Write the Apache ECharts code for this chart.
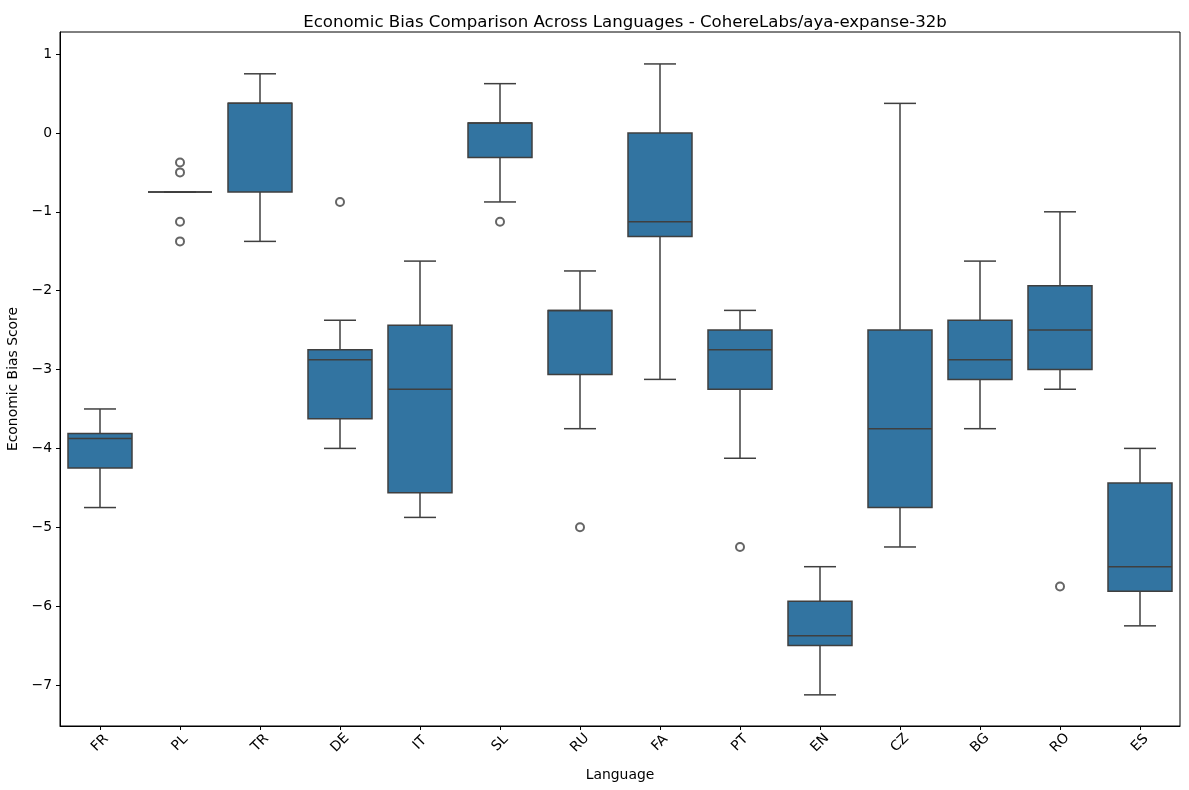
<!DOCTYPE html>
<html>
<head>
<meta charset="utf-8">
<script src="https://cdn.jsdelivr.net/npm/echarts@6/dist/echarts.min.js"></script>
<style>
html,body{margin:0;padding:0;background:#fff;}
#chart{width:1189px;height:790px;}
</style>
</head>
<body>
<div id="chart"></div>
<script>
const categories = ['FR','PL','TR','DE','IT','SL','RU','FA','PT','EN','CZ','BG','RO','ES'];
// [whiskerLow, Q1, median, Q3, whiskerHigh]
const boxStats = [
  [-4.75, -4.25, -3.875, -3.8125, -3.5],
  [-0.75, -0.75, -0.75, -0.75, -0.75],
  [-1.375, -0.75, 0.375, 0.375, 0.75],
  [-4.0, -3.625, -2.875, -2.75, -2.375],
  [-4.875, -4.5625, -3.25, -2.4375, -1.625],
  [-0.875, -0.3125, 0.125, 0.125, 0.625],
  [-3.75, -3.0625, -2.25, -2.25, -1.75],
  [-3.125, -1.3125, -1.125, 0.0, 0.875],
  [-4.125, -3.25, -2.75, -2.5, -2.25],
  [-7.125, -6.5, -6.375, -5.9375, -5.5],
  [-5.25, -4.75, -3.75, -2.5, 0.375],
  [-3.75, -3.125, -2.875, -2.375, -1.625],
  [-3.25, -3.0, -2.5, -1.9375, -1.0],
  [-6.25, -5.8125, -5.5, -4.4375, -4.0]
];
// [category, value]
const outliers = [
  ['PL', -0.375], ['PL', -0.5], ['PL', -1.125], ['PL', -1.375],
  ['DE', -0.875],
  ['SL', -1.125],
  ['RU', -5.0],
  ['PT', -5.25],
  ['RO', -5.75]
];
const yTicks = [-7, -6, -5, -4, -3, -2, -1, 0, 1];

const boxData = boxStats.map((s, i) => [i].concat(s));
const lineColor = '#3f3f3f';
const fillColor = '#3274a1';

function renderBox(params, api) {
  const idx = api.value(0);
  const lo = api.coord([idx, api.value(1)]);
  const q1 = api.coord([idx, api.value(2)]);
  const med = api.coord([idx, api.value(3)]);
  const q3 = api.coord([idx, api.value(4)]);
  const hi = api.coord([idx, api.value(5)]);
  const band = api.size([1, 0])[0];
  const bw = band * 0.8;
  const cw = band * 0.4;
  const x = lo[0];
  const ls = {stroke: lineColor, lineWidth: 1.5, fill: null};
  const children = [
    {type: 'line', shape: {x1: x, y1: q1[1], x2: x, y2: lo[1]}, style: ls},
    {type: 'line', shape: {x1: x, y1: q3[1], x2: x, y2: hi[1]}, style: ls},
    {type: 'line', shape: {x1: x - cw/2, y1: lo[1], x2: x + cw/2, y2: lo[1]}, style: ls},
    {type: 'line', shape: {x1: x - cw/2, y1: hi[1], x2: x + cw/2, y2: hi[1]}, style: ls},
    {type: 'rect', shape: {x: x - bw/2, y: q3[1], width: bw, height: q1[1] - q3[1]},
      style: {fill: fillColor, stroke: lineColor, lineWidth: 1.5}},
    {type: 'line', shape: {x1: x - bw/2, y1: med[1], x2: x + bw/2, y2: med[1]}, style: ls}
  ];
  return {type: 'group', children: children};
}

const chart = echarts.init(document.getElementById('chart'), null, {renderer: 'canvas'});
const font = 'DejaVu Sans';
chart.setOption({
  animation: false,
  backgroundColor: '#fff',
  title: {
    text: 'Economic Bias Comparison Across Languages - CohereLabs/aya-expanse-32b',
    left: 620, top: 9, textAlign: 'center',
    textStyle: {fontFamily: font, fontSize: 16.6, fontWeight: 'normal', color: '#000'}
  },
  grid: {left: 60, right: 9, top: 32, bottom: 64, containLabel: false, outerBoundsMode: 'none',
    show: true, borderColor: '#000', borderWidth: 1, backgroundColor: 'transparent'},
  xAxis: {
    type: 'category',
    data: categories,
    name: 'Language',
    nameLocation: 'middle',
    nameGap: 42,
    nameTextStyle: {fontFamily: font, fontSize: 13.9, color: '#000'},
    axisLine: {show: true, onZero: false, lineStyle: {color: '#000', width: 1}},
    axisTick: {show: true, alignWithLabel: true, length: 4, lineStyle: {color: '#000'}},
    axisLabel: {fontFamily: font, fontSize: 13.9, color: '#000', rotate: 45, margin: 17,
      align: 'center', verticalAlign: 'middle'},
    splitLine: {show: false}
  },
  yAxis: {
    type: 'value',
    min: -7.52, max: 1.28,
    name: 'Economic Bias Score',
    nameLocation: 'middle',
    nameGap: 40,
    nameTextStyle: {fontFamily: font, fontSize: 13.9, color: '#000'},
    axisLine: {show: true, lineStyle: {color: '#000', width: 1}},
    axisTick: {show: true, length: 4, lineStyle: {color: '#000'},
      customValues: yTicks},
    axisLabel: {fontFamily: font, fontSize: 13.9, color: '#000', margin: 8,
      customValues: yTicks,
      formatter: v => String(v).replace('-', '\u2212')},
    splitLine: {show: false}
  },
  series: [
    {
      type: 'custom',
      renderItem: renderBox,
      data: boxData,
      encode: {x: 0, y: [1, 2, 3, 4, 5]},
      z: 2
    },
    {
      type: 'scatter',
      data: outliers,
      symbol: 'emptyCircle',
      symbolSize: 8,
      itemStyle: {color: lineColor, borderColor: lineColor, borderWidth: 1.2},
      z: 3
    }
  ]
});
</script>
</body>
</html>
